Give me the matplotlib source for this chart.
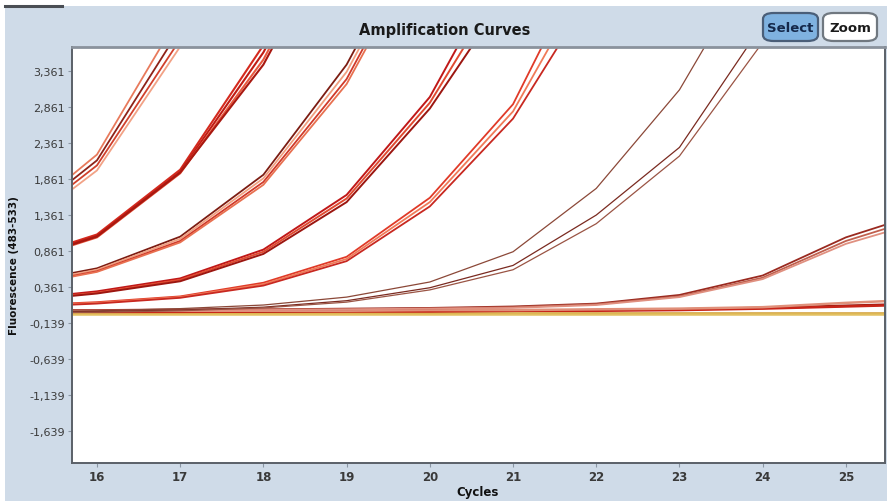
import matplotlib
matplotlib.use("Agg")
import matplotlib.pyplot as plt
from matplotlib.patches import Rectangle, FancyBboxPatch

# Cycle numbers at which fluorescence was read
cycles = [15, 16, 17, 18, 19, 20, 21, 22, 23, 24, 25, 26]

# Fluorescence (483-533) per sample, one list per well
group_a = [
    [1.25, 2.20, 4.15, 6.2, 7.5, 8.3, 8.8, 9.1, 9.3, 9.4, 9.5, 9.5],
    [1.20, 2.12, 3.95, 6.0, 7.4, 8.2, 8.7, 9.0, 9.2, 9.3, 9.4, 9.4],
    [1.15, 2.05, 3.80, 5.8, 7.2, 8.1, 8.6, 8.9, 9.1, 9.2, 9.3, 9.3],
    [1.10, 1.98, 3.70, 5.6, 7.0, 8.0, 8.5, 8.8, 9.0, 9.1, 9.2, 9.2],
]
group_b = [
    [0.72, 1.09, 1.99, 3.72, 5.9, 7.3, 8.1, 8.6, 8.9, 9.1, 9.2, 9.3],
    [0.70, 1.07, 1.96, 3.62, 5.8, 7.2, 8.0, 8.5, 8.8, 9.0, 9.1, 9.2],
    [0.68, 1.05, 1.94, 3.52, 5.7, 7.1, 7.9, 8.4, 8.7, 8.9, 9.0, 9.1],
    [0.69, 1.06, 1.95, 3.45, 5.6, 7.0, 7.8, 8.3, 8.6, 8.8, 8.9, 9.0],
]
group_c = [
    [0.40, 0.62, 1.06, 1.92, 3.45, 5.6, 7.0, 7.9, 8.4, 8.7, 8.9, 9.0],
    [0.38, 0.60, 1.03, 1.87, 3.35, 5.5, 6.9, 7.8, 8.3, 8.6, 8.8, 8.9],
    [0.36, 0.58, 1.00, 1.82, 3.25, 5.4, 6.8, 7.7, 8.2, 8.5, 8.7, 8.8],
    [0.35, 0.57, 0.98, 1.78, 3.18, 5.3, 6.7, 7.6, 8.1, 8.4, 8.6, 8.7],
]
group_d = [
    [0.18, 0.30, 0.48, 0.88, 1.64, 3.00, 5.10, 6.7, 7.7, 8.3, 8.6, 8.8],
    [0.17, 0.28, 0.46, 0.85, 1.59, 2.92, 4.80, 6.5, 7.5, 8.1, 8.5, 8.7],
    [0.16, 0.27, 0.44, 0.82, 1.54, 2.84, 4.55, 6.3, 7.3, 8.0, 8.4, 8.6],
]
group_e = [
    [0.10, 0.15, 0.23, 0.42, 0.78, 1.60, 2.90, 5.20, 6.8, 7.7, 8.2, 8.5],
    [0.09, 0.14, 0.22, 0.40, 0.75, 1.54, 2.80, 4.85, 6.6, 7.5, 8.1, 8.4],
    [0.08, 0.13, 0.21, 0.38, 0.72, 1.48, 2.70, 4.55, 6.4, 7.3, 8.0, 8.3],
]
group_f = [
    [0.02, 0.03, 0.06, 0.11, 0.22, 0.43, 0.85, 1.73, 3.10, 5.07, 6.8, 7.8],
    [0.01, 0.02, 0.04, 0.08, 0.17, 0.35, 0.66, 1.36, 2.30, 4.01, 6.0, 7.3],
    [0.00, 0.01, 0.03, 0.07, 0.15, 0.32, 0.60, 1.24, 2.18, 3.76, 5.8, 7.1],
]
group_g = [
    [0.04, 0.04, 0.05, 0.05, 0.06, 0.07, 0.09, 0.13, 0.25, 0.52, 1.05, 1.42],
    [0.03, 0.03, 0.04, 0.05, 0.05, 0.06, 0.08, 0.12, 0.23, 0.49, 1.00, 1.36],
    [0.03, 0.03, 0.03, 0.04, 0.05, 0.06, 0.07, 0.11, 0.22, 0.47, 0.96, 1.30],
]
group_neg = [
    [0.00, 0.00, 0.00, 0.00, 0.00, 0.00, 0.00, 0.00, 0.00, 0.00, 0.00, 0.00],
    [0.02, 0.02, 0.02, 0.02, 0.03, 0.03, 0.03, 0.04, 0.05, 0.07, 0.10, 0.13],
    [0.01, 0.01, 0.01, 0.02, 0.02, 0.02, 0.03, 0.03, 0.04, 0.06, 0.09, 0.12],
    [0.03, 0.03, 0.03, 0.03, 0.03, 0.04, 0.04, 0.05, 0.06, 0.08, 0.14, 0.19],
    [-0.01, -0.01, -0.01, -0.01, -0.01, -0.01, -0.01, -0.01, -0.01, -0.01, -0.01, -0.01],
]

y_ticks = [3.361, 2.861, 2.361, 1.861, 1.361, 0.861, 0.361,
           -0.139, -0.639, -1.139, -1.639]
x_ticks = [16, 17, 18, 19, 20, 21, 22, 23, 24, 25]

# Line colours for each set of replicates
colors_a = ["#e87a5c", "#8e2218", "#d0402c", "#f2a286"]
colors_b = ["#d42a1e", "#c01c14", "#e85a40", "#a81810"]
colors_c = ["#7c1c12", "#f0a080", "#d03a2a", "#e87050"]
colors_d = ["#c01818", "#e04a30", "#9c1610"]
colors_e = ["#e03a28", "#f07a58", "#c82820"]
colors_f = ["#8b4838", "#7a2a20", "#9a5444"]
colors_g = ["#9a2a20", "#c0604e", "#e09080"]
colors_neg = ["#d09a30", "#961a10", "#c82418", "#e0907a", "#e2c060"]

panel_bg = "#cfdbe8"

fig = plt.figure(figsize=(8.9, 5.02), dpi=100)
fig.patch.set_facecolor("white")

# light blue instrument panel behind the plot
fig.patches.append(Rectangle((5 / 890, 0), 882 / 890, 495 / 502,
                             transform=fig.transFigure, facecolor=panel_bg,
                             edgecolor="none", zorder=-5))
# toolbar stub at top-left
fig.add_artist(plt.Line2D([5 / 890, 62 / 890], [1 - 7 / 502, 1 - 7 / 502],
                          transform=fig.transFigure, color="#4a4e54", lw=2.2))

ax = fig.add_axes([72 / 890, 1 - 464 / 502, 813 / 890, 416 / 502])
ax.set_zorder(1)
ax.set_facecolor("white")

def draw(group, colors, lw):
    for vals, c in zip(group, colors):
        ax.plot(cycles, vals, color=c, lw=lw, solid_joinstyle="round")

draw(group_neg, colors_neg, 1.8)
draw(group_g, colors_g, 1.3)
draw(group_f, colors_f, 0.9)
draw(group_e, colors_e, 1.3)
draw(group_d, colors_d, 1.4)
draw(group_c, colors_c, 1.3)
draw(group_b, colors_b, 1.5)
draw(group_a, colors_a, 1.3)

ax.set_xlim(15.70, 25.47)
ax.set_ylim(-2.085, 3.695)

ax.set_yticks(y_ticks)
ax.set_yticklabels([f"{v:.3f}".replace(".", ",") for v in y_ticks],
                   fontsize=8, color="#3a3a3a")
ax.set_xticks(x_ticks)
ax.set_xticklabels([str(v) for v in x_ticks], fontsize=8.5,
                   fontweight="bold", color="#3a3a3a")
ax.tick_params(axis="both", direction="out", length=3, width=0.8,
               color="#8a96a4", pad=2)

for side, sp in ax.spines.items():
    sp.set_color("#5a6068")
    sp.set_linewidth(1.4)
ax.spines["top"].set_color("#8a929c")
ax.spines["top"].set_linewidth(2.0)

fig.text(445 / 890, 1 - 31 / 502, "Amplification Curves", ha="center",
         va="center", fontsize=10.5, fontweight="bold", color="#1a1a1a")
fig.text(478 / 890, 1 - 493 / 502, "Cycles", ha="center", va="center",
         fontsize=8.5, fontweight="bold", color="#111111")
fig.text(14 / 890, 1 - 266 / 502, "Fluorescence (483-533)", ha="center",
         va="center", rotation=90, fontsize=7.5, fontweight="bold",
         color="#111111")

# Select / Zoom buttons
def button(x0, x1, label, face, edge, tcolor):
    y0, y1 = 1 - 42 / 502, 1 - 14 / 502
    fig.patches.append(FancyBboxPatch(
        (x0 / 890, y0), (x1 - x0) / 890, y1 - y0,
        boxstyle="round,pad=0,rounding_size=0.012",
        transform=fig.transFigure, facecolor=face, edgecolor=edge,
        linewidth=1.6, zorder=2))
    fig.text((x0 + x1) / 2 / 890, (y0 + y1) / 2, label, ha="center",
             va="center", fontsize=9.5, fontweight="bold", color=tcolor,
             zorder=3)

button(763, 818, "Select", "#7fb2e0", "#4a5e78", "#14284a")
button(823, 877, "Zoom", "white", "#707880", "#1a1a1a")

fig.savefig("out.png", dpi=100, facecolor=fig.get_facecolor())
